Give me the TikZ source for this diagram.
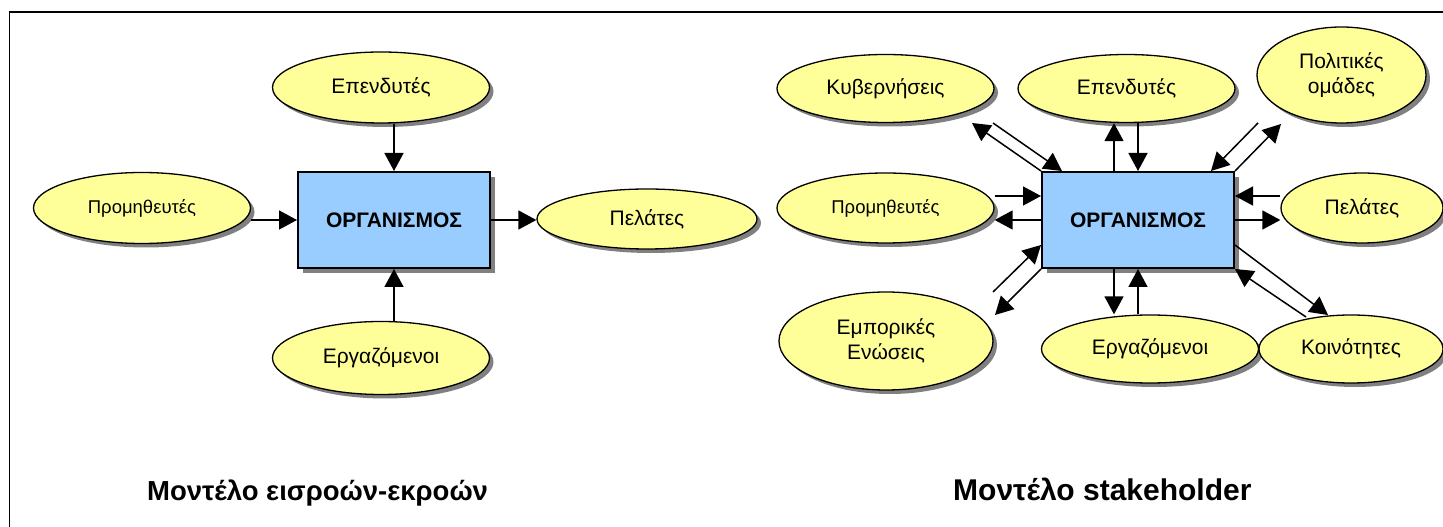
\documentclass[tikz,border=0pt]{standalone}
\usepackage{fontspec}
\setmainfont{Liberation Sans}
\usetikzlibrary{shapes.geometric,arrows.meta,shadows,calc}
\definecolor{boxblue}{HTML}{99CCFF}
\definecolor{ovalyellow}{HTML}{FFFF99}
\definecolor{shadowgray}{HTML}{808080}

\begin{document}
\begin{tikzpicture}[x=1pt,y=1pt,
  org/.style={draw, line width=2pt, fill=boxblue, minimum width=192pt,
    minimum height=96pt, inner sep=0pt,
    font=\fontsize{21}{24}\selectfont\bfseries,
    drop shadow={shadow xshift=5pt, shadow yshift=-5pt, fill=shadowgray, opacity=1}},
  party/.style={ellipse, draw, line width=1.3pt, fill=ovalyellow, inner sep=0pt,
    align=center, font=\fontsize{21}{25}\selectfont,
    drop shadow={shadow xshift=4pt, shadow yshift=-4pt, fill=shadowgray, opacity=1}},
  smalltext/.style={font=\fontsize{18.5}{22}\selectfont},
  arr/.style={line width=1.5pt, -{Triangle[length=18pt,width=19pt]}},
  title/.style={anchor=base west, inner sep=0pt, font=\bfseries}
]
\useasboundingbox (0,0) rectangle (1443,527);
% outer frame (runs off the right and bottom edges)
\draw[line width=1.5pt] (1443,515) -- (9.5,515) -- (9.5,0);

% ---------- input-output model ----------
\node[org] (box1) at (394,307) {ΟΡΓΑΝΙΣΜΟΣ};
\node[party, minimum width=217pt, minimum height=71pt] (inv1) at (381,439.5) {Επενδυτές};
\node[party, smalltext, minimum width=217pt, minimum height=71pt] (sup1) at (142,319) {Προμηθευτές};
\node[party, minimum width=220pt, minimum height=60pt] (cus1) at (647,308) {Πελάτες};
\node[party, minimum width=217pt, minimum height=73pt] (emp1) at (381,169) {Εργαζόμενοι};

\draw[arr] (box1.north |- inv1.south) -- (box1.north);
\draw[arr] (box1.west -| sup1.east) -- (box1.west);
\draw[arr] (box1.east) -- (box1.east -| cus1.west);
\draw[arr] (box1.south |- emp1.north) -- (box1.south);

% ---------- stakeholder model ----------
\node[org] (box2) at (1138,307) {ΟΡΓΑΝΙΣΜΟΣ};
\node[party, minimum width=217pt, minimum height=68pt] (gov) at (885.5,438.5) {Κυβερνήσεις};
\node[party, minimum width=217pt, minimum height=68pt] (inv2) at (1126.5,438.5) {Επενδυτές};
\node[party, minimum width=169pt, minimum height=96pt] (pol) at (1341.5,452) {Πολιτικές\\ομάδες};
\node[party, smalltext, minimum width=217pt, minimum height=70pt] (sup2) at (885.5,319) {Προμηθευτές};
\node[party, minimum width=162pt, minimum height=70pt] (cus2) at (1362,319) {Πελάτες};
\node[party, minimum width=214pt, minimum height=98pt] (trade) at (886,186) {Εμπορικές\\Ενώσεις};
\node[party, minimum width=217pt, minimum height=68pt] (emp2) at (1150,178) {Εργαζόμενοι};
\node[party, minimum width=184pt, minimum height=68pt] (com) at (1351,178) {Κοινότητες};

% free ends of the diagonal connectors
\coordinate (govA) at (972,404);
\coordinate (govB) at (993,404);
\coordinate (polA) at (1258,404);
\coordinate (polB) at (1281,403);
\coordinate (trA) at (993,235);
\coordinate (trB) at (995,212);
\coordinate (comA) at (1328,212);
\coordinate (comB) at (1306,210);

% investors
\draw[arr] ([xshift=-24pt]box2.north) -- ([xshift=-24pt]box2.north |- inv2.south);
\draw[arr] (box2.north |- inv2.south) -- (box2.north);
% employees
\draw[arr] ([xshift=-24pt]box2.south) -- ([xshift=-24pt]box2.south |- emp2.north);
\draw[arr] (box2.south |- emp2.north) -- (box2.south);
% suppliers
\draw[arr] ([yshift=24pt]box2.west -| sup2.east) -- ([yshift=24pt]box2.west);
\draw[arr] (box2.west) -- (box2.west -| sup2.east);
% customers
\draw[arr] ([yshift=24pt]box2.east -| cus2.west) -- ([yshift=24pt]box2.east);
\draw[arr] (box2.east) -- (box2.east -| cus2.west);
% governments
\draw[arr] (box2.north west) -- (govA);
\draw[arr] (govB) -- ([xshift=21pt]box2.north west);
% political groups
\draw[arr] (polA) -- ([xshift=-24pt]box2.north east);
\draw[arr] (box2.north east) -- (polB);
% trade unions
\draw[arr] (trA) -- ([yshift=-25pt]box2.west);
\draw[arr] (box2.south west) -- (trB);
% communities
\draw[arr] ([yshift=-25pt]box2.east) -- (comA);
\draw[arr] (comB) -- (box2.south east);

% ---------- captions ----------
\node[title, font=\fontsize{27.5}{32}\selectfont\bfseries] (t1) at (147,26) {Μοντέλο εισροών-εκροών};
\node[title, font=\fontsize{30}{34}\selectfont\bfseries] (t2) at (953,26) {Μοντέλο stakeholder};
\end{tikzpicture}
\end{document}
